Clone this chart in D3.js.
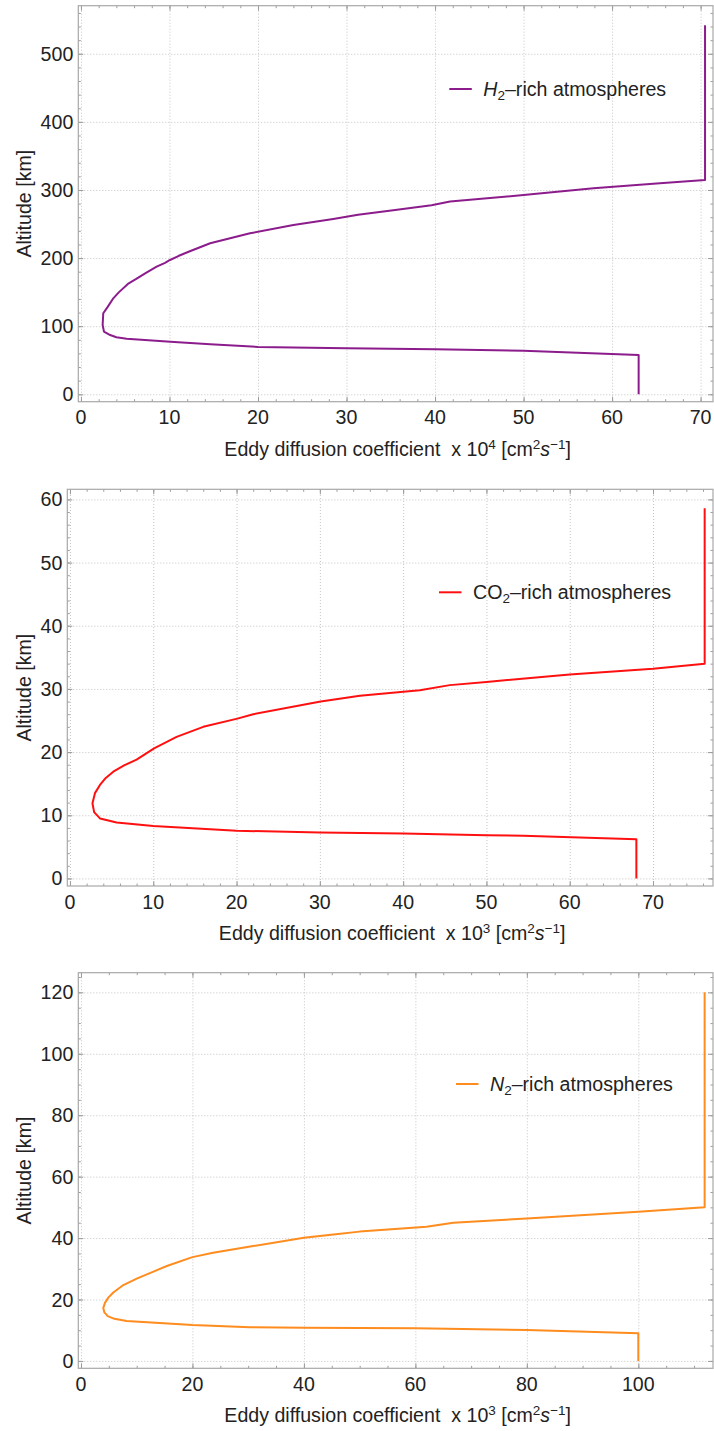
<!DOCTYPE html>
<html><head><meta charset="utf-8">
<script src="https://cdn.jsdelivr.net/npm/d3@7"></script>
<style>
body{margin:0;background:#fff;}
text{font-family:Arial,"Liberation Sans",sans-serif;fill:#222;}
</style></head>
<body><svg id="c" width="714" height="1431"></svg>
<script>
// ---- data ----
const h2Coef = [63, 63, 50, 40, 30, 20, 14.6, 10.1, 5.16, 4.0, 3.3, 2.6, 2.45, 2.52, 3.0, 3.6, 4.3, 5.3, 6.2, 7.3, 8.55, 9.5, 10.06, 11.0, 12.3, 14.6, 19.1, 24, 28.5, 31.3, 35.5, 39.6, 41.7, 50, 57.9, 65.4, 70.5, 70.5];
const h2Alt  = [0, 57.5, 64, 66, 67.5, 69.5, 73.4, 77.2, 81.7, 83.7, 87, 92, 101.8, 119, 128, 140, 150, 162, 169, 178, 187.4, 193, 197.2, 203, 210, 221.7, 236.4, 248.6, 257.5, 263.5, 270.5, 277.5, 283, 292.6, 302.5, 309.8, 314.7, 542];
const co2Coef = [68, 68, 54.4, 50, 40, 30, 20, 10, 5.6, 3.6, 2.9, 2.7, 3.0, 3.6, 4.3, 5.2, 6.5, 8.0, 10.1, 12.8, 16, 20.1, 22, 30.1, 34.8, 42, 45.6, 50, 60, 70, 76.2, 76.2];
const co2Alt  = [0, 6.2, 6.75, 6.85, 7.1, 7.25, 7.55, 8.3, 8.85, 9.5, 10.5, 11.9, 13.5, 14.8, 15.9, 16.9, 17.9, 18.8, 20.6, 22.4, 24, 25.3, 26, 28, 28.9, 29.8, 30.6, 31.1, 32.3, 33.2, 34.0, 58.6];
const n2Coef = [100, 100, 80, 60, 40, 30.3, 20, 8.2, 6.0, 4.8, 4.2, 4.0, 4.3, 4.9, 5.8, 7.6, 10.1, 13, 15.4, 20, 23.7, 30.9, 40, 45.3, 50, 62, 66.8, 80, 100, 111.9, 111.9];
const n2Alt  = [0, 9.0, 10.1, 10.6, 10.8, 11.0, 11.7, 13.0, 13.7, 14.6, 15.8, 17.2, 18.9, 20.6, 22.3, 24.7, 26.9, 29.1, 30.9, 33.8, 35.2, 37.4, 40.1, 41.2, 42.1, 43.7, 45.0, 46.4, 48.6, 50, 120];

const h2XTicks = [0, 10, 20, 30, 40, 50, 60, 70];
const h2YTicks = [0, 100, 200, 300, 400, 500];
const co2XTicks = [0, 10, 20, 30, 40, 50, 60, 70];
const co2YTicks = [0, 10, 20, 30, 40, 50, 60];
const n2XTicks = [0, 20, 40, 60, 80, 100];
const n2YTicks = [0, 20, 40, 60, 80, 100, 120];

const legendLabels = [
  [{t:"H", i:true}, {t:"2", sub:true}, {t:"\u2013rich atmospheres"}],
  [{t:"CO"}, {t:"2", sub:true}, {t:"\u2013rich atmospheres"}],
  [{t:"N", i:true}, {t:"2", sub:true}, {t:"\u2013rich atmospheres"}]
];
const exponents = ["4", "3", "3"];

// ---- drawing ----
const svg = d3.select("#c");
const FS = 19.6;
const SFS = 13.5;

function drawPanel(p) {
  const g = svg.append("g");
  const x = d3.scaleLinear().domain(p.xd).range([p.left, p.right]);
  const y = d3.scaleLinear().domain(p.yd).range([p.bottom, p.top]);
  const W = p.right - p.left, H = p.bottom - p.top;

  // grid
  g.append("g").attr("transform", `translate(0,${p.bottom})`)
    .call(d3.axisBottom(x).tickValues(p.xt).tickSize(-H).tickFormat(""))
    .call(a => a.select(".domain").remove())
    .selectAll("line").attr("stroke", "#c4c4c4").attr("stroke-dasharray", "1,2");
  g.append("g").attr("transform", `translate(${p.left},0)`)
    .call(d3.axisLeft(y).tickValues(p.yt).tickSize(-W).tickFormat(""))
    .call(a => a.select(".domain").remove())
    .selectAll("line").attr("stroke", "#c4c4c4").attr("stroke-dasharray", "1,2");

  // minor + major ticks, pointing inward on all four sides
  const xm = d3.range(0, p.xd[1], p.xmStep).filter(v => v >= p.xd[0]);
  const ym = d3.range(0, p.yd[1], p.ymStep).filter(v => v >= p.yd[0]);
  const tickCol = "#9c9c9c";
  const addTicks = (axisFn, scale, vals, len, tr) => {
    g.append("g").attr("transform", tr)
      .call(axisFn(scale).tickValues(vals).tickSize(len).tickFormat("").tickSizeOuter(0))
      .call(a => a.select(".domain").remove())
      .selectAll("line").attr("stroke", tickCol);
  };
  addTicks(d3.axisBottom, x, xm, -2.5, `translate(0,${p.bottom})`);
  addTicks(d3.axisBottom, x, p.xt, -5, `translate(0,${p.bottom})`);
  addTicks(d3.axisTop, x, xm, -2.5, `translate(0,${p.top})`);
  addTicks(d3.axisTop, x, p.xt, -5, `translate(0,${p.top})`);
  addTicks(d3.axisLeft, y, ym, -2.5, `translate(${p.left},0)`);
  addTicks(d3.axisLeft, y, p.yt, -5, `translate(${p.left},0)`);
  addTicks(d3.axisRight, y, ym, -2.5, `translate(${p.right},0)`);
  addTicks(d3.axisRight, y, p.yt, -5, `translate(${p.right},0)`);

  // frame
  g.append("rect").attr("x", p.left).attr("y", p.top).attr("width", W).attr("height", H)
    .attr("fill", "none").attr("stroke", "#a8a8a8").attr("stroke-width", 1.2);

  // tick labels
  g.selectAll(".xl").data(p.xt).join("text")
    .attr("x", d => x(d)).attr("y", p.bottom + 22.5)
    .attr("text-anchor", "middle").attr("font-size", FS).text(d => d);
  g.selectAll(".yl").data(p.yt).join("text")
    .attr("x", p.left - 5).attr("y", d => y(d) + 7)
    .attr("text-anchor", "end").attr("font-size", FS).text(d => d);

  // axis titles
  g.append("text").attr("transform", `translate(31,${(p.top + p.bottom) / 2}) rotate(-90)`)
    .attr("text-anchor", "middle").attr("font-size", FS).text("Altitude [km]");
  const t = g.append("text").attr("x", (p.left + p.right) / 2 + 2).attr("y", p.bottom + 54)
    .attr("text-anchor", "middle").attr("font-size", FS);
  t.append("tspan").text("Eddy diffusion coefficient \u00a0x 10");
  t.append("tspan").attr("dy", -7).attr("font-size", SFS).text(p.exp);
  t.append("tspan").attr("dy", 7).text(" [cm");
  t.append("tspan").attr("dy", -7).attr("font-size", SFS).text("2");
  t.append("tspan").attr("dy", 7).attr("font-style", "italic").text("s");
  t.append("tspan").attr("dy", -7).attr("font-size", SFS).text("\u22121");
  t.append("tspan").attr("dy", 7).text("]");

  // curve
  const pts = p.cx.map((v, i) => [v, p.cy[i]]);
  g.append("path").datum(pts)
    .attr("d", d3.line().x(d => x(d[0])).y(d => y(d[1])))
    .attr("fill", "none").attr("stroke", p.color).attr("stroke-width", 2)
    .attr("stroke-linejoin", "round");

  // legend
  g.append("line").attr("x1", p.leg[0]).attr("x2", p.leg[0] + 22.5)
    .attr("y1", p.leg[1]).attr("y2", p.leg[1]).attr("stroke", p.color).attr("stroke-width", 2);
  const lt = g.append("text").attr("x", p.leg[0] + 34).attr("y", p.leg[1] + 7).attr("font-size", FS);
  let shifted = false;
  p.label.forEach(s => {
    const ts = lt.append("tspan").text(s.t);
    if (s.i) ts.attr("font-style", "italic");
    if (s.sub) { ts.attr("font-size", SFS).attr("dy", 4); shifted = true; }
    else if (shifted) { ts.attr("dy", -4); shifted = false; }
  });
}

drawPanel({
  xd: [-0.3, 71.4], yd: [-10.9, 570.6], left: 78.3, right: 713, top: 5.7, bottom: 401.7,
  xt: h2XTicks, yt: h2YTicks, xmStep: 2, ymStep: 20, cx: h2Coef, cy: h2Alt,
  color: "#8c1c8c", leg: [449.3, 89], label: legendLabels[0], exp: exponents[0]
});
drawPanel({
  xd: [-0.32, 77.2], yd: [-1.2, 61.6], left: 67.3, right: 713, top: 489.3, bottom: 886,
  xt: co2XTicks, yt: co2YTicks, xmStep: 2, ymStep: 2, cx: co2Coef, cy: co2Alt,
  color: "#ff1010", leg: [439, 592.3], label: legendLabels[1], exp: exponents[1]
});
drawPanel({
  xd: [-0.48, 113.4], yd: [-2.4, 126.4], left: 78.3, right: 713, top: 972.7, bottom: 1368.3,
  xt: n2XTicks, yt: n2YTicks, xmStep: 5, ymStep: 5, cx: n2Coef, cy: n2Alt,
  color: "#ff8c1e", leg: [456, 1084], label: legendLabels[2], exp: exponents[2]
});
</script></body></html>
